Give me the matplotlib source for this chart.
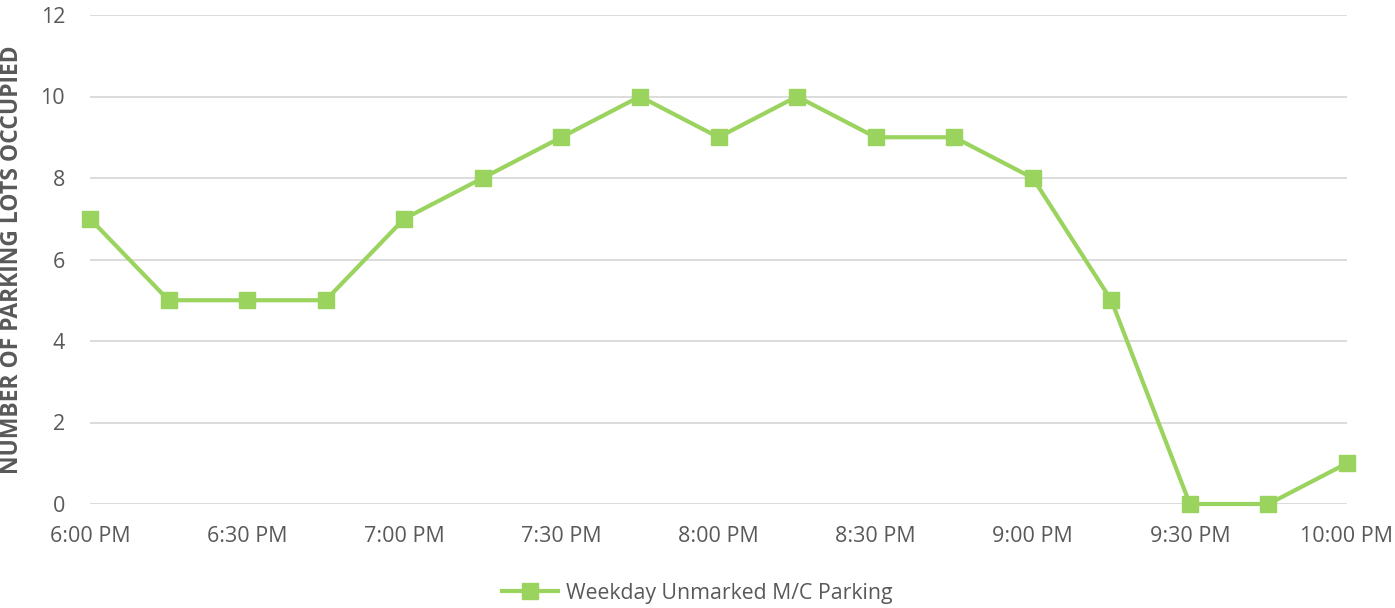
import matplotlib.pyplot as plt

# Occupancy sampled every 15 minutes, 6:00 PM to 10:00 PM
occupied = [7, 5, 5, 5, 7, 8, 9, 10, 9, 10, 9, 9, 8, 5, 0, 0, 1]
tick_labels = ["6:00 PM", "6:30 PM", "7:00 PM", "7:30 PM", "8:00 PM",
               "8:30 PM", "9:00 PM", "9:30 PM", "10:00 PM"]
y_ticks = [0, 2, 4, 6, 8, 10, 12]
series_name = "Weekday Unmarked M/C Parking"

plt.rcParams['font.family'] = ['Open Sans', 'DejaVu Sans']
text_color = '#595959'
green = '#9BD35F'

fig = plt.figure(figsize=(13.95, 6.08), dpi=100)
ax = fig.add_axes([90 / 1395, 1 - 504 / 608, (1347 - 90) / 1395, (504 - 15) / 608])

x = list(range(len(occupied)))
ax.plot(x, occupied, color=green, linewidth=3, marker='s', markersize=11,
        clip_on=False, zorder=3, label=series_name)

ax.set_xlim(0, len(occupied) - 1)
ax.set_ylim(0, 12)
ax.set_xticks(x[::2])
ax.set_xticklabels(tick_labels)
ax.set_yticks(y_ticks)

ax.grid(axis='y', color='#D9D9D9', linewidth=1.3)
ax.set_axisbelow(True)
for s in ax.spines.values():
    s.set_visible(False)
ax.tick_params(axis='both', length=0, labelsize=15.5, colors=text_color)
ax.tick_params(axis='x', pad=16)
ax.tick_params(axis='y', pad=18)

ax.set_ylabel("NUMBER OF PARKING LOTS OCCUPIED", fontsize=16.5, fontweight='bold',
              color=text_color, labelpad=12)

leg = fig.legend(loc='center', bbox_to_anchor=(0.5, 1 - 593 / 608), frameon=False,
                 fontsize=15.3, handlelength=2.6, handletextpad=0.4)
for t in leg.get_texts():
    t.set_color(text_color)

fig.savefig("out.png", dpi=100)
